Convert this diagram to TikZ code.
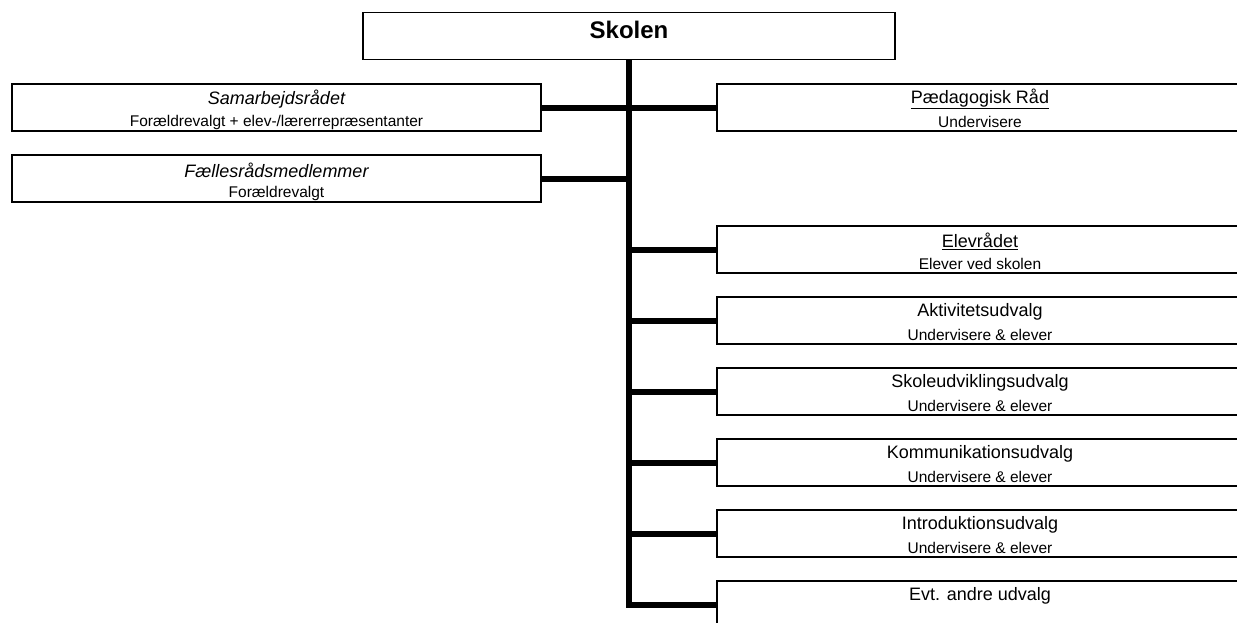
\documentclass[tikz,border=0pt]{standalone}
\usepackage{fontspec}
\setmainfont{Liberation Sans}
\usetikzlibrary{positioning}

\begin{document}
\begin{tikzpicture}[
        x=1pt, y=-1pt,
        box/.style={draw, line width=1.8pt, minimum height=47pt, inner sep=0pt},
        leftbox/.style={box, minimum width=529pt},
        rightbox/.style={box, minimum width=526pt},
        head/.style={font=\fontsize{18}{20}\selectfont, inner sep=0pt},
        sub/.style={font=\fontsize{15.5}{17}\selectfont, inner sep=0pt},
        conn/.style={line width=6pt},
    ]
    \useasboundingbox (0,0) rectangle (1237,622);

    \node[box, minimum width=532pt] (skolen) at (629,36) {};
    \node[font=\fontsize{24}{26}\selectfont\bfseries, inner sep=0pt]
        at ([yshift=-18pt]skolen.north) {Skolen};

    % left
    \node[leftbox] (samarb) at (276.5,107.5) {};
    \node[head] at ([yshift=-16pt]samarb.north) {\itshape Samarbejdsrådet};
    \node[sub] at ([yshift=-39pt]samarb.north) {Forældrevalgt + elev-/lærerrepræsentanter};

    \node[leftbox] (faelles) at (276.5,178.5) {};
    \node[head] at ([yshift=-16pt]faelles.north) {\itshape Fællesrådsmedlemmer};
    \node[sub] at ([yshift=-39pt]faelles.north) {Forældrevalgt};

    % right
    \node[rightbox] (paed) at (980,107.5) {};
    \node[head] at ([yshift=-16pt]paed.north) {\underline{Pædagogisk Råd}};
    \node[sub] at ([yshift=-39pt]paed.north) {Undervisere};

    \node[rightbox] (elev) at (980,249.5) {};
    \node[head] at ([yshift=-16pt]elev.north) {\underline{Elevrådet}};
    \node[sub] at ([yshift=-39pt]elev.north) {Elever ved skolen};

    \node[rightbox] (aktiv) at (980,320.5) {};
    \node[head] at ([yshift=-16pt]aktiv.north) {Aktivitetsudvalg};
    \node[sub] at ([yshift=-39pt]aktiv.north) {Undervisere \& elever};

    \node[rightbox] (skoleudv) at (980,391.5) {};
    \node[head] at ([yshift=-16pt]skoleudv.north) {Skoleudviklingsudvalg};
    \node[sub] at ([yshift=-39pt]skoleudv.north) {Undervisere \& elever};

    \node[rightbox] (komm) at (980,462.5) {};
    \node[head] at ([yshift=-16pt]komm.north) {Kommunikationsudvalg};
    \node[sub] at ([yshift=-39pt]komm.north) {Undervisere \& elever};

    \node[rightbox] (intro) at (980,533.5) {};
    \node[head] at ([yshift=-16pt]intro.north) {Introduktionsudvalg};
    \node[sub] at ([yshift=-39pt]intro.north) {Undervisere \& elever};

    \node[rightbox] (andre) at (980,604.5) {};
    \node[head] at ([yshift=-16pt]andre.north) {Evt. andre udvalg};

    % trunk and branches
    \draw[conn] (skolen.south) -- (skolen.south |- andre.west) -- (andre.west);
    \draw[conn] (samarb.east) -- (samarb.east -| skolen.south);
    \draw[conn] (faelles.east) -- (faelles.east -| skolen.south);
    \draw[conn] (paed.west) -- (paed.west -| skolen.south);
    \draw[conn] (elev.west) -- (elev.west -| skolen.south);
    \draw[conn] (aktiv.west) -- (aktiv.west -| skolen.south);
    \draw[conn] (skoleudv.west) -- (skoleudv.west -| skolen.south);
    \draw[conn] (komm.west) -- (komm.west -| skolen.south);
    \draw[conn] (intro.west) -- (intro.west -| skolen.south);
\end{tikzpicture}
\end{document}
